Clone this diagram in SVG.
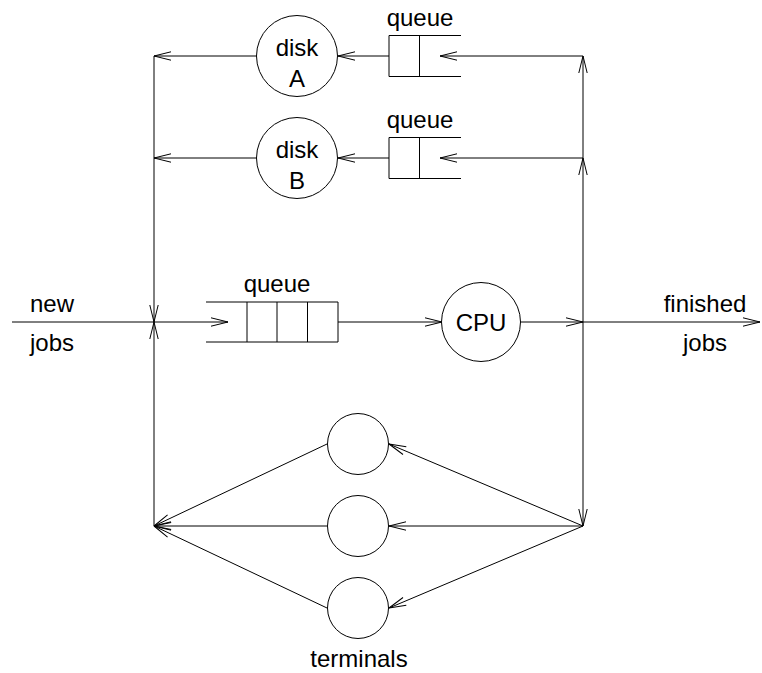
<svg xmlns="http://www.w3.org/2000/svg" width="762" height="673" viewBox="0 0 762 673">
<defs>
<marker id="arr" markerUnits="userSpaceOnUse" markerWidth="20" markerHeight="12" viewBox="-18 -6 20 12" refX="0" refY="0" orient="auto" overflow="visible">
<path d="M-17,-4.2 L0,0 L-17,4.2" fill="none" stroke="#000" stroke-width="1"/>
</marker>
</defs>
<style>
line, polyline, circle { stroke: #000; stroke-width: 1; fill: none; }
circle { fill: #fff; }
.a { marker-end: url(#arr); }
text { font-family: "Liberation Sans", Arial, Helvetica, sans-serif; font-size: 24px; fill: #000; text-anchor: middle; }
</style>
<rect width="762" height="673" fill="#fff"/>
<g id="connectors">
<line class="a" x1="12" y1="322" x2="228" y2="322"/>
<line class="a" x1="154" y1="56" x2="154" y2="322"/>
<line class="a" x1="154" y1="526" x2="154" y2="322"/>
<line class="a" x1="257" y1="56" x2="154" y2="56"/>
<line class="a" x1="257" y1="158" x2="154" y2="158"/>
<line class="a" x1="389" y1="56" x2="338" y2="56"/>
<line class="a" x1="389" y1="158" x2="338" y2="158"/>
<line class="a" x1="583" y1="56" x2="440" y2="56"/>
<line class="a" x1="583" y1="158" x2="440" y2="158"/>
<line class="a" x1="583" y1="158" x2="583" y2="56"/>
<line class="a" x1="583" y1="322" x2="583" y2="158"/>
<line class="a" x1="583" y1="322" x2="583" y2="526"/>
<line class="a" x1="338" y1="322" x2="442" y2="322"/>
<line class="a" x1="521" y1="322" x2="583" y2="322"/>
<line class="a" x1="583" y1="322" x2="760" y2="322"/>
<line class="a" x1="583" y1="526" x2="389" y2="444"/>
<line class="a" x1="583" y1="526" x2="389" y2="526"/>
<line class="a" x1="583" y1="526" x2="389" y2="608"/>
<line class="a" x1="327" y1="444" x2="154" y2="526"/>
<line class="a" x1="327" y1="526" x2="154" y2="526"/>
<line class="a" x1="327" y1="608" x2="154" y2="526"/>
</g>
<g id="diskA">
<circle cx="297" cy="56" r="40.5"/>
<text x="297" y="56">disk</text>
<text x="297" y="87">A</text>
</g>
<g id="queueA">
<polyline points="461,35.5 389,35.5 389,76.5 461,76.5"/>
<line x1="419.5" y1="35.5" x2="419.5" y2="76.5"/>
<text x="420" y="26">queue</text>
</g>
<g id="diskB">
<circle cx="297" cy="158" r="40.5"/>
<text x="297" y="158">disk</text>
<text x="297" y="189">B</text>
</g>
<g id="queueB">
<polyline points="461,137.5 389,137.5 389,178.5 461,178.5"/>
<line x1="419.5" y1="137.5" x2="419.5" y2="178.5"/>
<text x="420" y="128">queue</text>
</g>
<g id="mainQueue">
<polyline points="206,302 338,302 338,342 206,342"/>
<line x1="247" y1="302" x2="247" y2="342"/>
<line x1="277" y1="302" x2="277" y2="342"/>
<line x1="307.5" y1="302" x2="307.5" y2="342"/>
<text x="277" y="292">queue</text>
</g>
<g id="cpu">
<circle cx="481" cy="322" r="39.5"/>
<text x="481" y="331">CPU</text>
</g>
<g id="newJobs">
<text x="52" y="312">new</text>
<text x="52" y="351">jobs</text>
</g>
<g id="finishedJobs">
<text x="705" y="312">finished</text>
<text x="705" y="351">jobs</text>
</g>
<g id="terminals">
<circle cx="358" cy="444" r="30.5"/>
<circle cx="358" cy="526" r="30.5"/>
<circle cx="358" cy="608" r="30.5"/>
<text x="359" y="667">terminals</text>
</g>
</svg>
